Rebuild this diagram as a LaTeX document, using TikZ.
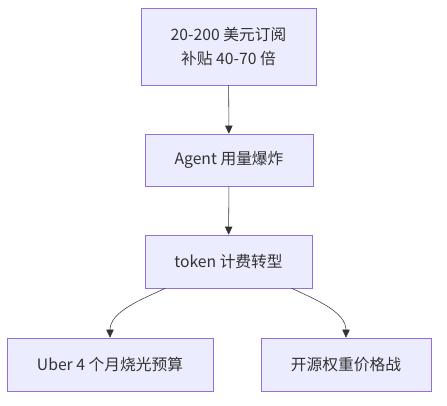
\documentclass[tikz,border=0pt]{standalone}
\usepackage{fontspec}
\setmainfont{Noto Sans CJK SC}
\usetikzlibrary{arrows.meta}
\definecolor{boxfill}{HTML}{ECECFF}
\definecolor{boxline}{HTML}{9370DB}
\definecolor{ink}{HTML}{333333}

\begin{document}
\begin{tikzpicture}[x=0.75pt,y=-0.75pt]
    \tikzstyle{box}=[rectangle, draw=boxline, fill=boxfill, text=ink, align=center, font=\fontsize{11.8}{18}\selectfont, inner sep=0pt]
    \tikzstyle{flow}=[draw=ink, -{Triangle[length=6pt,width=5.5pt]}]
    \useasboundingbox (0,0) rectangle (447,406);
    \node[box, minimum width=131.25pt, minimum height=57.75pt] (sub) at (228.5,46.5) {20-200 美元订阅\\ 补贴 40-70 倍};
    \node[box, minimum width=126pt, minimum height=39pt] (agent) at (229,160) {Agent 用量爆炸};
    \node[box, minimum width=125.25pt, minimum height=39.75pt] (token) at (228.5,261.5) {token 计费转型};
    \node[box, minimum width=154.5pt, minimum height=39.75pt] (uber) at (110,364.5) {Uber 4 个月烧光预算};
    \node[box, minimum width=127.5pt, minimum height=39.75pt] (open) at (346,364.5) {开源权重价格战};
    \draw[flow] (sub) -- (agent);
    \draw[flow] (agent) -- (token);
    \draw[flow] (token.203) to[out=205, in=90, looseness=0.9] (uber.north);
    \draw[flow] (token.337) to[out=-25, in=90, looseness=0.9] (open.north);
\end{tikzpicture}
\end{document}
